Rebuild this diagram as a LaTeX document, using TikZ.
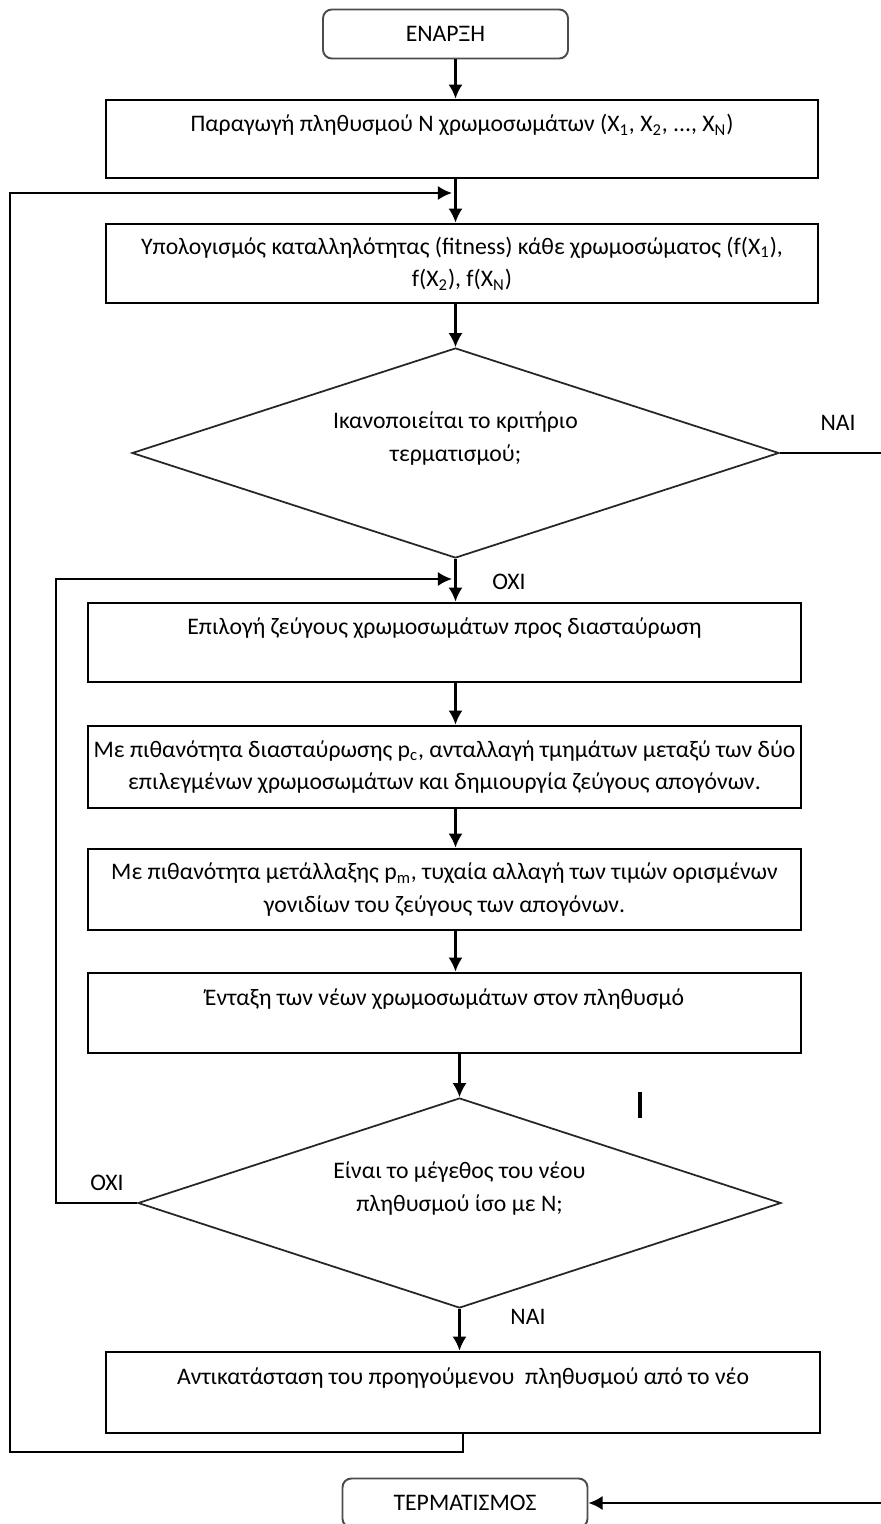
\documentclass[tikz,border=0pt]{standalone}
\usepackage{fontspec}
\setmainfont{Carlito}
\usepackage{tikz}
\usetikzlibrary{shapes.geometric,arrows.meta}
\tikzset{>={Latex[length=8pt,width=8pt]}}
\tikzset{
  box/.style={draw, line width=1.6pt, minimum width=14.26cm, minimum height=1.6cm, align=center, inner sep=0pt},
  term/.style={draw=black!70, line width=1.1pt, rounded corners=5pt, minimum width=4.9cm, minimum height=0.98cm},
  decision/.style={draw=black!85, diamond, aspect=3.1, line width=1pt, align=center, inner sep=0pt},
  line/.style={line width=1.2pt},
}

\begin{document}
\begin{tikzpicture}[font=\fontsize{13.5}{18.5}\selectfont]
  \useasboundingbox (0,0) rectangle (17.6,-30.48);
  \node[term] (start) at (8.91,-0.68) {ΕΝΑΡΞΗ};
  \node[box, minimum width=14.24cm, minimum height=1.56cm] (gen) at (9.24,-2.78)
    {Παραγωγή πληθυσμού Ν χρωμοσωμάτων (X\textsubscript{1}, X\textsubscript{2}, ..., X\textsubscript{N})\\ \mbox{}};
  \node[box, minimum width=14.24cm, minimum height=1.58cm] (fit) at (9.24,-5.27)
    {Υπολογισμός καταλληλότητας (fitness) κάθε χρωμοσώματος (f(X\textsubscript{1}),\\ f(X\textsubscript{2}), f(X\textsubscript{N})};
  \node[decision, minimum width=12.94cm, minimum height=4.2cm] (stop) at (9.11,-9.06)
    {Ικανοποιείται το κριτήριο\\ τερματισμού;\\ \mbox{}};
  \node[box, minimum height=1.58cm] (sel) at (8.89,-12.85)
    {Επιλογή ζεύγους χρωμοσωμάτων προς διασταύρωση\\ \mbox{}};
  \node[box, minimum height=1.64cm] (cross) at (8.89,-15.34)
    {\makebox[14.2cm]{Με πιθανότητα διασταύρωσης p\textsubscript{c}, ανταλλαγή τμημάτων μεταξύ των δύο}\\ επιλεγμένων χρωμοσωμάτων και δημιουργία ζεύγους απογόνων.};
  \node[box, minimum height=1.62cm] (mut) at (8.89,-17.79)
    {Με πιθανότητα μετάλλαξης p\textsubscript{m}, τυχαία αλλαγή των τιμών ορισμένων\\ γονιδίων του ζεύγους των απογόνων.};
  \node[box] (ins) at (8.89,-20.26)
    {Ένταξη των νέων χρωμοσωμάτων στον πληθυσμό\\ \mbox{}};
  \node[decision, minimum width=12.86cm, minimum height=4.2cm] (size) at (9.19,-24.06)
    {Είναι το μέγεθος του νέου\\ πληθυσμού ίσο με Ν;\\ \mbox{}};
  \node[box, minimum width=14.28cm, minimum height=1.62cm] (repl) at (9.26,-27.85)
    {Αντικατάσταση του προηγούμενου \ πληθυσμού από το νέο\\ \mbox{}};
  \node[term] (end) at (9.3,-30.06) {ΤΕΡΜΑΤΙΣΜΟΣ};

  \node (nai1) at (16.76,-8.46) {ΝΑΙ};
  \node (oxi1) at (10.18,-11.64) {ΟΧΙ};
  \node (oxi2) at (2.14,-23.66) {ΟΧΙ};
  \node (nai2) at (10.56,-26.34) {ΝΑΙ};

  \draw[line,->] (start.south -| stop) -- (gen.north -| stop);
  \draw[line,->] (gen.south -| stop) -- (fit.north -| stop);
  \draw[line,->] (fit.south -| stop) -- (stop.north);
  \draw[line,->] (stop.south) -- (sel.north -| stop);
  \draw[line,->] (sel.south -| stop) -- (cross.north -| stop);
  \draw[line,->] (cross.south -| stop) -- (mut.north -| stop);
  \draw[line,->] (mut.south -| stop) -- (ins.north -| stop);
  \draw[line,->] (ins.south -| size) -- (size.north);
  \draw[line,->] (size.south) -- (repl.north -| size);

  \coordinate (loopa) at (0.2,-3.86);
  \coordinate (loopb) at (1.12,-11.58);
  \draw[line,->,shorten >=2pt] (repl.south) -- ++(0,-0.36) -| (loopa) -- (loopa -| stop);
  \draw[line,->,shorten >=2pt] (size.west) -| (loopb) -- (loopb -| stop);
  \draw[line,->] (stop.east) -- ++(2.1,0) |- (end.east);

  \draw[line width=2.2pt] (12.8,-21.84) -- (12.8,-22.36);
\end{tikzpicture}
\end{document}
